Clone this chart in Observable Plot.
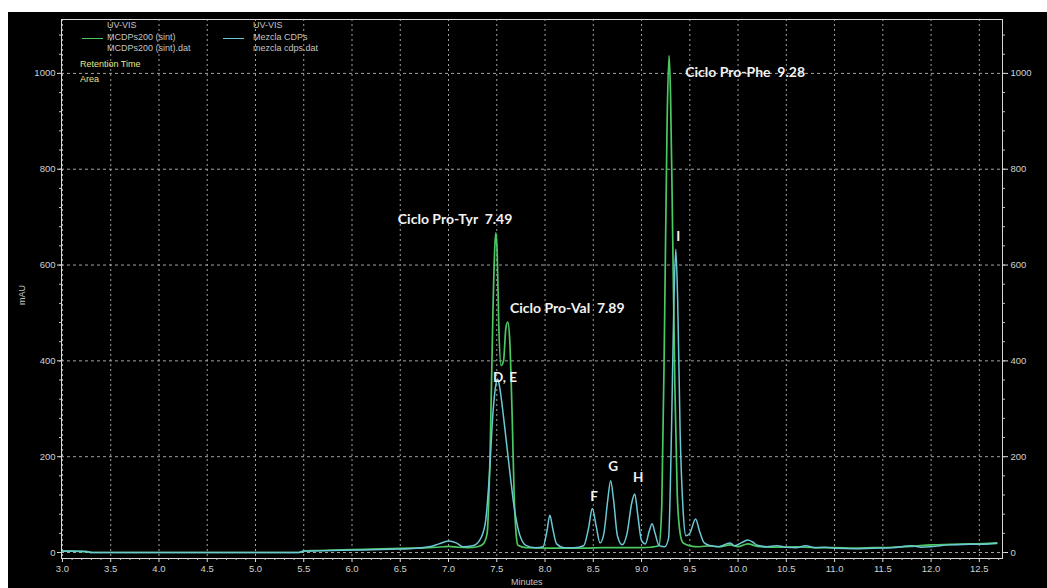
<!DOCTYPE html>
<html><head><meta charset="utf-8">
<script src="https://cdn.jsdelivr.net/npm/d3@7"></script>
<script src="https://cdn.jsdelivr.net/npm/@observablehq/plot@0.6"></script>
<style>
body{margin:0;background:#fff;}
#wrap{position:absolute;left:8px;top:12px;width:1039px;height:576px;background:#000;overflow:hidden;font-family:"Liberation Sans",Arial,sans-serif;}
#wrap svg{position:absolute;left:0;top:0;}
.lg{position:absolute;font-size:9px;color:#c4c4c4;white-space:nowrap;line-height:10px;}
.yl{color:#e6e68a;}
.sw{position:absolute;height:0;border-top:1.5px solid;}
</style>
</head><body>
<div id="wrap">
  <div class="lg" style="left:99px;top:8px">UV-VIS</div>
  <div class="lg" style="left:99px;top:20px">MCDPs200 (sint)</div>
  <div class="lg" style="left:99px;top:31px">MCDPs200 (sint).dat</div>
  <div class="sw" style="left:74px;top:26px;width:21px;border-color:#4cc862"></div>
  <div class="lg" style="left:245px;top:8px">UV-VIS</div>
  <div class="lg" style="left:245px;top:20px">Mezcla CDPs</div>
  <div class="lg" style="left:245px;top:31px">mezcla cdps.dat</div>
  <div class="sw" style="left:215px;top:26px;width:21px;border-color:#6cc8d4"></div>
  <div class="lg yl" style="left:72px;top:47px">Retention Time</div>
  <div class="lg yl" style="left:72px;top:62px">Area</div>
  <div class="lg" style="left:4px;top:278px;transform:rotate(-90deg);transform-origin:center;">mAU</div>
  <div class="lg" style="left:503px;top:565px">Minutes</div>
</div>
<script>
// Green trace: MCDPs200 (sint)
const greenTime = [3.00,3.10,3.25,3.30,3.50,4.00,4.50,5.00,5.45,5.50,5.60,5.80,6.00,6.20,6.40,6.60,6.80,6.95,7.00,7.10,7.20,7.30,7.36,7.40,7.43,7.46,7.48,7.49,7.505,7.52,7.545,7.57,7.595,7.615,7.635,7.66,7.68,7.70,7.72,7.80,8.00,8.20,8.40,8.60,8.80,9.00,9.10,9.18,9.21,9.24,9.265,9.285,9.30,9.32,9.345,9.37,9.40,9.43,9.50,9.60,9.70,9.80,9.92,10.0,10.1,10.2,10.4,10.6,10.8,11.0,11.2,11.4,11.6,11.8,12.0,12.2,12.4,12.6,12.68];
const greenValue = [3,3,2,0,0,0,0,0,0,3,4,5,6,7,8,9,10,12,13,11,10,12,18,40,200,500,640,667,620,480,390,400,470,481,440,280,120,40,15,10,9,9,9,10,10,10,11,14,100,500,900,1037,960,700,350,120,40,20,14,12,14,12,16,12,18,13,11,12,10,10,9,10,11,13,16,17,18,19,20];
// Cyan trace: Mezcla CDPs
const cyanTime = [3.00,3.25,3.30,3.50,4.00,4.50,5.00,5.45,5.50,5.80,6.00,6.20,6.40,6.60,6.80,6.90,7.00,7.08,7.15,7.25,7.32,7.38,7.42,7.46,7.49,7.51,7.53,7.56,7.60,7.64,7.68,7.72,7.76,7.80,7.90,7.98,8.02,8.05,8.08,8.12,8.20,8.30,8.40,8.45,8.49,8.53,8.57,8.61,8.65,8.68,8.71,8.75,8.80,8.85,8.90,8.93,8.96,9.00,9.04,9.08,9.11,9.14,9.18,9.24,9.28,9.31,9.335,9.355,9.375,9.40,9.43,9.46,9.50,9.56,9.60,9.65,9.72,9.80,9.88,9.92,9.96,10.05,10.1,10.15,10.2,10.3,10.4,10.5,10.6,10.7,10.8,10.9,11.0,11.2,11.4,11.6,11.8,11.9,12.0,12.2,12.4,12.6,12.68];
const cyanValue = [3,2,0,0,0,0,0,0,3,4,5,6,7,8,12,18,24,20,12,14,25,60,150,290,350,362,345,300,230,160,95,50,25,15,10,12,45,78,50,18,10,10,14,50,92,55,20,40,110,150,110,35,16,40,105,122,80,25,18,45,60,40,15,12,30,250,520,633,520,250,90,35,40,70,45,20,14,12,18,20,14,22,26,22,15,12,14,11,10,14,10,11,9,8,9,10,14,11,12,16,17,18,19];

const xTicks = [3.0,3.5,4.0,4.5,5.0,5.5,6.0,6.5,7.0,7.5,8.0,8.5,9.0,9.5,10.0,10.5,11.0,11.5,12.0,12.5];
const yTicks = [0,200,400,600,800,1000];

// Peak names (left-anchored) and peak letters (centred)
const nameText = ["Ciclo Pro-Tyr\u00a0 7.49","Ciclo Pro-Val\u00a0 7.89","Ciclo Pro-Phe\u00a0 9.28"];
const nameTime = [6.475,7.637,9.452];
const nameValue = [696,510,1002];
const letterText = ["D, E","F","G","H","I"];
const letterTime = [7.585,8.508,8.705,8.965,9.38];
const letterValue = [365,117,179,156,660];

const green = greenTime.map((t,i)=>({t, v: greenValue[i]}));
const cyan = cyanTime.map((t,i)=>({t, v: cyanValue[i]}));
const names = nameText.map((s,i)=>({s, t: nameTime[i], v: nameValue[i]}));
const letters = letterText.map((s,i)=>({s, t: letterTime[i], v: letterValue[i]}));
const xMinor = d3.range(30, 128, 1).map(d => d/10).filter(d => !xTicks.some(x => Math.abs(x-d) < 1e-9));
const yMinor = d3.range(0, 1101, 40);

const plot = Plot.plot({
  width: 1039, height: 576,
  marginLeft: 53, marginRight: 45, marginTop: 7, marginBottom: 30,
  style: {background: "#000", color: "#d0d0d0", fontFamily: "Liberation Sans, Arial, sans-serif", fontSize: "9.5px", overflow: "visible"},
  x: {domain: [2.99, 12.74], label: null},
  y: {domain: [-12.5, 1112.5], label: null},
  marks: [
    Plot.gridX(xTicks, {stroke: "#bdbdbd", strokeOpacity: 0.85, strokeDasharray: "2,3"}),
    Plot.gridY(yTicks, {stroke: "#bdbdbd", strokeOpacity: 0.85, strokeDasharray: "3,3"}),
    Plot.frame({stroke: "#d8d8d8", strokeOpacity: 1}),
    Plot.axisX(xTicks, {anchor: "bottom", tickSize: 4, tickPadding: 3, tickFormat: d3.format(".1f"), stroke: "#e0e0e0"}),
    Plot.axisX(xMinor, {anchor: "bottom", tickSize: 2, text: null, stroke: "#c0c0c0"}),
    Plot.axisY(yTicks, {anchor: "left", tickSize: 4, tickPadding: 2, tickFormat: d3.format("d"), stroke: "#e0e0e0"}),
    Plot.axisY(yMinor, {anchor: "left", tickSize: 2, text: null, stroke: "#c0c0c0"}),
    Plot.axisY(yTicks, {anchor: "right", tickSize: 5, tickPadding: 3, tickFormat: d3.format("d"), stroke: "#e0e0e0"}),
    Plot.axisY(yMinor, {anchor: "right", tickSize: 2, text: null, stroke: "#c0c0c0"}),
    Plot.line(green, {x: "t", y: "v", stroke: "#4cc862", strokeWidth: 1.7, curve: "monotone-x"}),
    Plot.line(cyan, {x: "t", y: "v", stroke: "#6cc8d4", strokeWidth: 1.5, curve: "monotone-x"}),
    Plot.text(names, {x: "t", y: "v", text: "s", textAnchor: "start", fill: "#f2f2f2", fontWeight: "bold", fontSize: 14, fontFamily: "Lato, Open Sans, sans-serif"}),
    Plot.text(letters, {x: "t", y: "v", text: "s", textAnchor: "middle", fill: "#f2f2f2", fontWeight: "bold", fontSize: 13.5, fontFamily: "Lato, Open Sans, sans-serif"})
  ]
});
document.getElementById("wrap").prepend(plot);
</script>
</body></html>
